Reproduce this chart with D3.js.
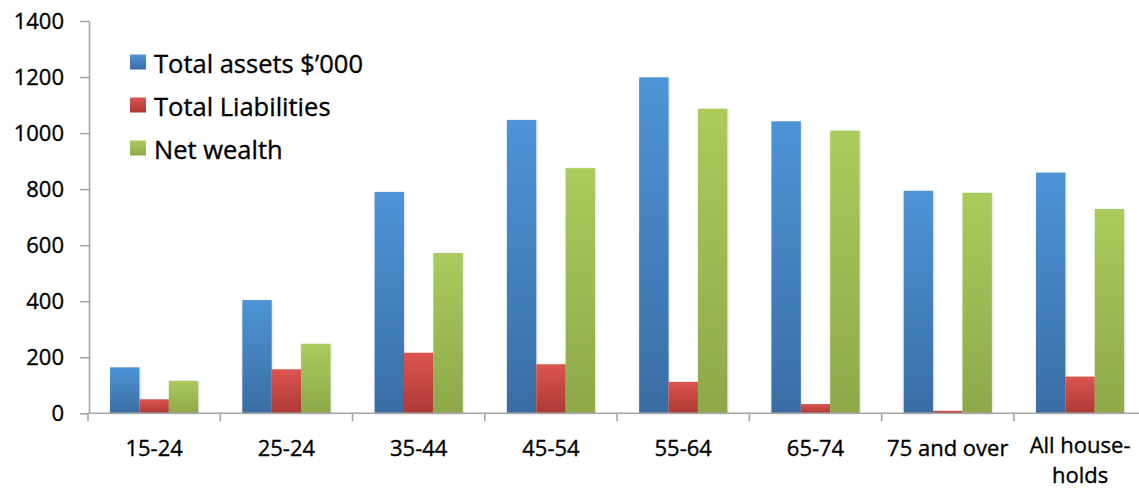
<!DOCTYPE html>
<html>
<head>
<meta charset="utf-8">
<script src="https://cdn.jsdelivr.net/npm/d3@7"></script>
<style>
  html, body { margin: 0; padding: 0; background: #fff; }
  svg { display: block; font-family: "Open Sans", Lato, sans-serif; }
  svg text { stroke: #000; stroke-width: 0.35px; }
</style>
</head>
<body>
<svg id="chart" width="1139" height="490"></svg>
<script>
// Household balance sheet by age group ($'000)
const categories = ["15-24", "25-24", "35-44", "45-54", "55-64", "65-74", "75 and over", "All house-\nholds"];
const seriesNames = ["Total assets $\u2019000", "Total Liabilities", "Net wealth"];
const totalAssets = [164, 404, 790, 1047, 1199, 1042, 794, 859];
const totalLiabilities = [50, 157, 216, 175, 112, 33, 9, 131];
const netWealth = [116, 248, 572, 875, 1087, 1009, 787, 729];
const yTicks = [0, 200, 400, 600, 800, 1000, 1200, 1400];

const seriesValues = [totalAssets, totalLiabilities, netWealth];
const colors = [
  { top: "#4e94d6", bottom: "#3a6da4" },
  { top: "#dc5550", bottom: "#ad3935" },
  { top: "#abcb5c", bottom: "#8ea84a" }
];

const svg = d3.select("#chart");
const axisColor = "#a6a6a6";
const fontFamily = "'Open Sans', Lato, sans-serif";

const x0 = d3.scaleBand().domain(categories).range([88, 1146.2]).padding(0);
const x1 = d3.scaleBand().domain(d3.range(seriesNames.length))
  .range([0, x0.bandwidth()]).paddingInner(0).paddingOuter(0.75);
const y = d3.scaleLinear().domain([0, 1400]).range([413.3, 21]);

// Vertical gradients for each series
const defs = svg.append("defs");
colors.forEach((c, i) => {
  const g = defs.append("linearGradient").attr("id", "grad" + i)
    .attr("x1", 0).attr("y1", 0).attr("x2", 0).attr("y2", 1);
  g.append("stop").attr("offset", "0%").attr("stop-color", c.top);
  g.append("stop").attr("offset", "100%").attr("stop-color", c.bottom);
});
const shadow = defs.append("filter").attr("id", "shadow")
  .attr("x", "-20%").attr("y", "-5%").attr("width", "140%").attr("height", "110%");
shadow.append("feDropShadow").attr("dx", 0.6).attr("dy", 0.6)
  .attr("stdDeviation", 0.8).attr("flood-color", "#000").attr("flood-opacity", 0.18);

// Bars
const rows = categories.map((cat, ci) => ({ cat, vals: seriesValues.map(s => s[ci]) }));
const groups = svg.append("g").selectAll("g").data(rows).join("g")
  .attr("transform", d => `translate(${x0(d.cat)},0)`);
groups.selectAll("rect").data(d => d.vals.map((v, si) => ({ v, si })))
  .join("rect")
  .attr("x", d => x1(d.si))
  .attr("width", x1.bandwidth())
  .attr("y", d => y(d.v))
  .attr("height", d => y(0) - y(d.v))
  .attr("fill", d => `url(#grad${d.si})`)
  .attr("filter", "url(#shadow)");

// Y axis
const yAxis = svg.append("g").attr("transform", "translate(89,0)")
  .call(d3.axisLeft(y).tickValues(yTicks).tickFormat(d3.format("d"))
    .tickSize(9).tickPadding(16).tickSizeOuter(0));
yAxis.select(".domain").attr("stroke", axisColor).attr("stroke-width", 1.6);
yAxis.selectAll(".tick line").attr("stroke", axisColor).attr("stroke-width", 1.6);
yAxis.selectAll(".tick text").attr("font-size", 22).attr("fill", "#000")
  .attr("font-family", fontFamily);

// X axis: ticks at category boundaries, labels centred in each band
const xAxis = svg.append("g").attr("transform", `translate(0,${y(0)})`);
xAxis.append("line").attr("x1", 88).attr("x2", 1146.2).attr("y1", 0).attr("y2", 0)
  .attr("stroke", axisColor).attr("stroke-width", 1.6);
const boundaries = categories.map(c => x0(c)).concat([x0.range()[1]]);
xAxis.selectAll("line.tick").data(boundaries).join("line").attr("class", "tick")
  .attr("x1", d => d).attr("x2", d => d).attr("y1", 0).attr("y2", 8)
  .attr("stroke", axisColor).attr("stroke-width", 1.6);
const labels = xAxis.selectAll("text").data(categories).join("text")
  .attr("x", d => x0(d) + x0.bandwidth() / 2)
  .attr("y", d => d.includes("\n") ? 40 : 43)
  .attr("text-anchor", "middle")
  .attr("font-size", 22)
  .attr("fill", "#000");
labels.each(function(d) {
  const parts = d.split("\n");
  d3.select(this).selectAll("tspan").data(parts).join("tspan")
    .attr("x", x0(d) + x0.bandwidth() / 2)
    .attr("dy", (p, i) => i === 0 ? 0 : 30)
    .text(p => p);
});

// Legend
const legend = svg.append("g").selectAll("g").data(seriesNames).join("g")
  .attr("transform", (d, i) => `translate(130,${62 + i * 43})`);
legend.append("rect").attr("x", 0).attr("y", -7.5).attr("width", 16).attr("height", 15)
  .attr("fill", (d, i) => `url(#grad${i})`);
legend.append("text").attr("x", 24).attr("y", 11).attr("font-size", 25.5)
  .attr("fill", "#000").text(d => d);
</script>
</body>
</html>
